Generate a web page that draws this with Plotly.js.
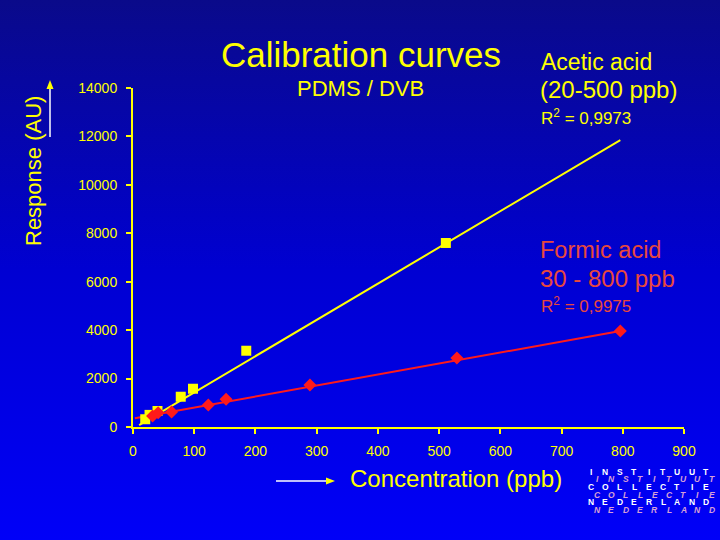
<!DOCTYPE html>
<html>
<head>
<meta charset="utf-8">
<script src="https://cdn.plot.ly/plotly-3.0.1.min.js"></script>
<style>
  html, body { margin: 0; padding: 0; }
  #chart { width: 720px; height: 540px;
    background: linear-gradient(180deg, #0a0a8a 0%, #0000d2 50%, #0000f8 100%); }
</style>
</head>
<body>
<div id="chart"></div>
<script>
// ---- data ----
const aceticConc = [20, 27, 40, 78, 98, 185, 511];
const aceticResp = [320, 500, 660, 1250, 1580, 3150, 7600];
const aceticFitConc = [10, 796];
const aceticFitResp = [80, 11850];

const formicConc = [32, 41, 63, 123, 152, 289, 529, 796];
const formicResp = [454, 591, 620, 909, 1144, 1735, 2850, 3965];
const formicFitConc = [3, 796];
const formicFitResp = [360, 3965];

const xTicks = [0, 100, 200, 300, 400, 500, 600, 700, 800, 900];
const yTicks = [0, 2000, 4000, 6000, 8000, 10000, 12000, 14000];

const logoRows = ["INSTITUUT", "INSTITUUT", "COLLECTIE", "COLLECTIE", "NEDERLAND", "NEDERLAND"];

const YEL = "#ffff00";
const RED = "#ff1a1a";
const REDTXT = "#e8483c";
const FONT = "Liberation Sans, Arial, sans-serif";

const traces = [
  { x: aceticFitConc, y: aceticFitResp, mode: "lines", line: { color: YEL, width: 2 }, hoverinfo: "skip" },
  { x: formicFitConc, y: formicFitResp, mode: "lines", line: { color: RED, width: 2 }, hoverinfo: "skip" },
  { x: aceticConc, y: aceticResp, mode: "markers", name: "Acetic acid",
    marker: { symbol: "square", size: 10, color: YEL } },
  { x: formicConc, y: formicResp, mode: "markers", name: "Formic acid",
    marker: { symbol: "diamond", size: 10, color: RED } }
];

// helpers: pixel -> paper coords (plot area 133..684 x, 88..427 y)
const px = v => (v - 133) / 551;
const py = v => (427 - v) / 339;

const P = { xref: "paper", yref: "paper", showarrow: false };

const annotations = [
  { ...P, text: "PDMS / DVB", x: px(360), y: py(88), xanchor: "center", yanchor: "middle", font: { size: 22, color: YEL, family: FONT } },
  { ...P, text: "Acetic acid", x: px(539), y: py(62), xanchor: "left", yanchor: "middle", font: { size: 23, color: YEL, family: FONT } },
  { ...P, text: "(20-500 ppb)", x: px(538), y: py(90), xanchor: "left", yanchor: "middle", font: { size: 24, color: YEL, family: FONT } },
  { ...P, text: "R<sup>2</sup> = 0,9973", x: px(539), y: py(117), xanchor: "left", yanchor: "middle", font: { size: 17, color: YEL, family: FONT } },
  { ...P, text: "Formic acid", x: px(538), y: py(250), xanchor: "left", yanchor: "middle", font: { size: 23.5, color: REDTXT, family: FONT } },
  { ...P, text: "30 - 800 ppb", x: px(538), y: py(278), xanchor: "left", yanchor: "middle", font: { size: 24, color: REDTXT, family: FONT } },
  { ...P, text: "R<sup>2</sup> = 0,9975", x: px(539), y: py(305), xanchor: "left", yanchor: "middle", font: { size: 17, color: REDTXT, family: FONT } },
  { ...P, text: "Concentration (ppb)", x: px(456), y: py(478), xanchor: "center", yanchor: "middle", font: { size: 24, color: YEL, family: FONT } },
  { ...P, text: "Response (AU)", x: px(33), y: py(171), xanchor: "center", yanchor: "middle", textangle: -90, font: { size: 22, color: YEL, family: FONT } }
];

// logo: one letter per annotation, evenly spaced
const logoY = [472, 479.5, 487, 494.5, 502, 509.5];
logoRows.forEach((row, i) => {
  const italic = i % 2 === 1;
  const x0 = italic ? 597 : 591;
  row.split("").forEach((ch, k) => {
    annotations.push({
      ...P,
      text: ch,
      x: px(x0 + k * 14.4), y: py(logoY[i]), xanchor: "center", yanchor: "middle",
      font: { size: 8.5, color: italic ? "#d8a0d4" : "#ffffff", family: FONT,
              weight: "bold", style: italic ? "italic" : "normal" }
    });
  });
});

const tri = (pts) => "M" + pts.map(p => px(p[0]) + "," + py(p[1])).join(" L") + " Z";

const shapes = [
  { type: "line", xref: "paper", yref: "paper", x0: px(50), x1: px(50), y0: py(137), y1: py(87), line: { color: "#ffffff", width: 1.5 } },
  { type: "path", xref: "paper", yref: "paper", path: tri([[50, 80], [46.5, 89], [53.5, 89]]), fillcolor: YEL, line: { width: 0 } },
  { type: "line", xref: "paper", yref: "paper", x0: px(276), x1: px(328), y0: py(481), y1: py(481), line: { color: "#ffffff", width: 1.5 } },
  { type: "path", xref: "paper", yref: "paper", path: tri([[335, 481], [326, 477.5], [326, 484.5]]), fillcolor: YEL, line: { width: 0 } }
];

const layout = {
  width: 720, height: 540,
  margin: { l: 133, r: 36, t: 88, b: 113 },
  paper_bgcolor: "rgba(0,0,0,0)",
  plot_bgcolor: "rgba(0,0,0,0)",
  showlegend: false,
  title: { text: "Calibration curves", x: 361 / 720, y: 1 - 55 / 540, xanchor: "center", yanchor: "middle",
           font: { size: 35, color: YEL, family: FONT } },
  xaxis: {
    range: [0, 900], tickvals: xTicks, ticktext: xTicks.map(String),
    showline: true, linecolor: YEL, linewidth: 2, showgrid: false, zeroline: false,
    ticks: "outside", ticklen: 5, tickwidth: 2, tickcolor: YEL, ticklabelstandoff: 5,
    tickfont: { size: 14, color: YEL, family: FONT }
  },
  yaxis: {
    range: [0, 14000], tickvals: yTicks, ticktext: yTicks.map(String),
    showline: true, linecolor: YEL, linewidth: 2, showgrid: false, zeroline: false,
    ticks: "outside", ticklen: 5, tickwidth: 2, tickcolor: YEL, ticklabelstandoff: 6,
    tickfont: { size: 14, color: YEL, family: FONT }
  },
  annotations: annotations,
  shapes: shapes
};

Plotly.newPlot("chart", traces, layout, { staticPlot: true, displayModeBar: false });
</script>
</body>
</html>
